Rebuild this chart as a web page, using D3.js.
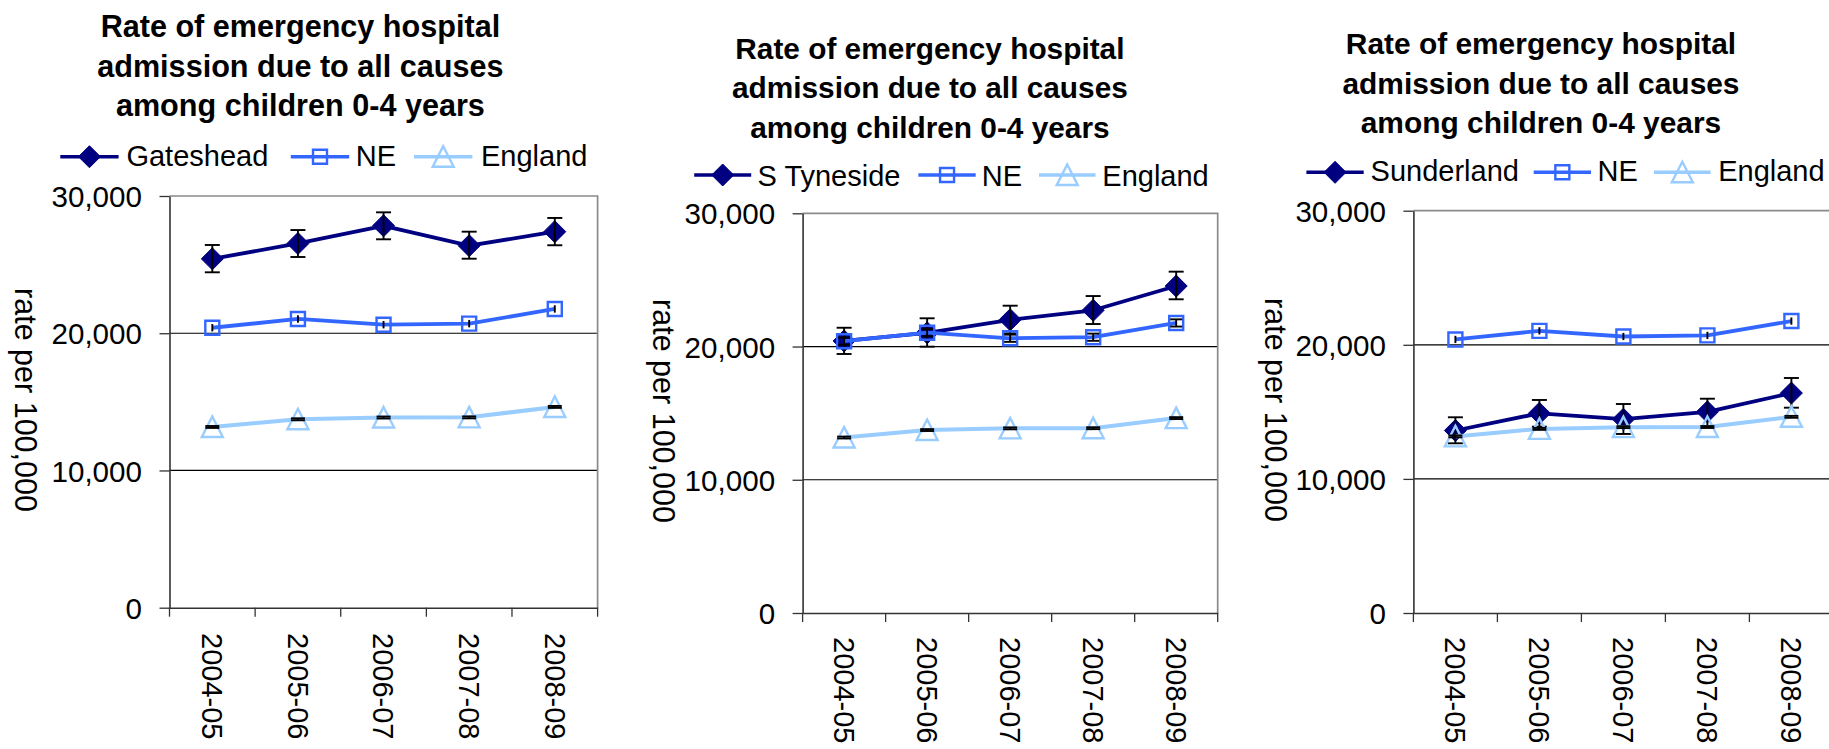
<!DOCTYPE html>
<html>
<head>
<meta charset="utf-8">
<script src="https://cdn.jsdelivr.net/npm/d3@7"></script>
<style>
html,body{margin:0;padding:0;background:#fff;overflow:hidden}
text{font-family:"Liberation Sans",Arial,sans-serif;fill:#000}
</style>
</head>
<body>
<svg id="c" width="1829" height="749"></svg>
<script>
// ---------- data ----------
const categories = ["2004-05","2005-06","2006-07","2007-08","2008-09"];
const yTicks = [0, 10000, 20000, 30000];
const titleLines = ["Rate of emergency hospital","admission due to all causes","among children 0-4 years"];
const yAxisTitle = "rate per 100,000";

const neName = "NE";
const neRate = [20400, 21040, 20620, 20700, 21770];
const neLow  = [20130, 20770, 20350, 20430, 21500];
const neHigh = [20670, 21310, 20890, 20970, 22040];

const englandName = "England";
const englandRate = [13170, 13730, 13860, 13870, 14630];
const englandLow  = [13100, 13660, 13790, 13800, 14560];
const englandHigh = [13240, 13800, 13930, 13940, 14700];

const gatesheadRate = [25420, 26540, 27830, 26380, 27400];
const gatesheadLow  = [24440, 25555, 26845, 25430, 26410];
const gatesheadHigh = [26430, 27520, 28810, 27400, 28400];

const tynesideRate = [20420, 21030, 22010, 22720, 24540];
const tynesideLow  = [19440, 19990, 20990, 21690, 23545];
const tynesideHigh = [21410, 22120, 23065, 23790, 25620];

const sunderlandRate = [13610, 14890, 14450, 15000, 16400];
const sunderlandLow  = [12655, 13895, 13350, 13945, 15310];
const sunderlandHigh = [14595, 15885, 15585, 15980, 17525];

// ---------- layout / style ----------
const FONT_TICK = 29.6, FONT_LEG = 29, FONT_XLAB = 29, FONT_YTITLE = 30.5;
const C_LOCAL = "#000080", C_NE = "#3366FF", C_ENG = "#99CCFF";

const charts = [
  {name:"Gateshead", rate:gatesheadRate, low:gatesheadLow, high:gatesheadHigh, neCaps:false,
   L:{left:169.5,right:597.6,top:196,bottom:607.7,titleX:300.4,titleY:[37,76.5,116],titleSize:30.6,
      legY:166,legLineY:156.7,leg:[[60.3,118.6,126.4],[290.8,349.2,355.8],[414,472.4,481]],
      yTitle:[25.5,400],xLabY:633}},
  {name:"S Tyneside", rate:tynesideRate, low:tynesideLow, high:tynesideHigh, neCaps:true,
   L:{left:802.6,right:1217.7,top:213.3,bottom:613,titleX:929.9,titleY:[59,98,137.5],titleSize:29.8,
      legY:185.5,legLineY:175,leg:[[694.2,751.2,757.5],[918.4,975.7,981.7],[1039,1095.5,1102.3]],
      yTitle:[663.5,411],xLabY:637}},
  {name:"Sunderland", rate:sunderlandRate, low:sunderlandLow, high:sunderlandHigh, neCaps:false,
   L:{left:1413.4,right:1833.4,top:210.7,bottom:613,titleX:1541,titleY:[54,93.5,132.5],titleSize:29.9,
      legY:181,legLineY:172.3,leg:[[1306.4,1363.7,1370.6],[1533.7,1591,1597.5],[1654,1710.6,1718.2]],
      yTitle:[1276,410],xLabY:637}}
];

const svg = d3.select("#c");

const markerPath = {
  diamond: "M0,-11L11,0L0,11L-11,0Z",
  square: "M-7,-7H7V7H-7Z",
  triangle: "M0,-10.5L10.5,10L-10.5,10Z"
};

function drawMarker(g, x, y, type, color) {
  const p = g.append("path").attr("d", markerPath[type]).attr("transform", `translate(${x},${y})`);
  if (type === "diamond") p.attr("fill", color).attr("stroke", color).attr("stroke-width", 1);
  else p.attr("fill", "none").attr("stroke", color).attr("stroke-width", 2.4);
}

function hText(g, x, y, str, size, weight, anchor) {
  g.append("text")
    .attr("x", x).attr("y", y)
    .attr("text-anchor", anchor)
    .style("font-size", size + "px")
    .style("font-weight", weight)
    .text(str);
}

charts.forEach(ch => {
  const L = ch.L;
  const g = svg.append("g");
  const x = d3.scaleBand().domain(categories).range([L.left, L.right]);
  const y = d3.scaleLinear().domain([0, 30000]).range([L.bottom, L.top]);
  const cx = c => x(c) + x.bandwidth() / 2;

  // title
  titleLines.forEach((t, i) => hText(g, L.titleX, L.titleY[i], t, L.titleSize, "bold", "middle"));

  // legend
  const legItems = [
    {label: ch.name, color: C_LOCAL, type: "diamond"},
    {label: neName, color: C_NE, type: "square"},
    {label: englandName, color: C_ENG, type: "triangle"}
  ];
  legItems.forEach((it, i) => {
    const [x0, x1, tx] = L.leg[i];
    g.append("line").attr("x1", x0).attr("x2", x1).attr("y1", L.legLineY).attr("y2", L.legLineY)
      .attr("stroke", it.color).attr("stroke-width", 3.6);
    drawMarker(g, (x0 + x1) / 2, L.legLineY, it.type, it.color);
    hText(g, tx, L.legY, it.label, FONT_LEG, "normal", "start");
  });

  // gridlines
  g.append("g").selectAll("line").data(yTicks.filter(v => v > 0 && v < 30000)).join("line")
    .attr("x1", L.left).attr("x2", L.right).attr("y1", d => y(d)).attr("y2", d => y(d))
    .attr("stroke", "#000").attr("stroke-width", 1.2);

  // plot border top / right
  g.append("path")
    .attr("d", `M${L.left},${y(30000)}H${L.right}V${y(0)}`)
    .attr("fill", "none").attr("stroke", "#8a8a8a").attr("stroke-width", 1.7);

  // y axis
  const ya = g.append("g").attr("transform", `translate(${L.left},0)`)
    .call(d3.axisLeft(y).tickValues(yTicks).tickSize(10).tickSizeOuter(0).tickFormat(d3.format(",")));
  ya.select(".domain").attr("stroke", "#333").attr("stroke-width", 1.6);
  ya.selectAll(".tick line").attr("stroke", "#333").attr("stroke-width", 1.3);
  ya.selectAll(".tick text")
    .attr("x", -27.5).attr("dy", "0.36em")
    .style("font-size", FONT_TICK + "px").style("font-family", '"Liberation Sans",Arial,sans-serif').attr("fill", "#000");

  // x axis
  const xa = g.append("g").attr("transform", `translate(0,${L.bottom})`)
    .call(d3.axisBottom(x).tickSize(0).tickSizeOuter(0));
  xa.select(".domain").attr("stroke", "#333").attr("stroke-width", 1.6);
  xa.selectAll(".tick text")
    .attr("y", null).attr("dy", "0.35em")
    .attr("transform", `translate(0,${L.xLabY - L.bottom}) rotate(90)`)
    .attr("text-anchor", "start")
    .style("font-size", FONT_XLAB + "px").style("font-family", '"Liberation Sans",Arial,sans-serif').attr("fill", "#000");
  const bounds = categories.map(c => x(c)).concat([x.range()[1]]);
  g.append("g").selectAll("line").data(bounds).join("line")
    .attr("x1", d => d).attr("x2", d => d).attr("y1", L.bottom).attr("y2", L.bottom + 9)
    .attr("stroke", "#333").attr("stroke-width", 1.3);

  // y axis title
  g.append("text")
    .attr("transform", `translate(${L.yTitle[0]},${L.yTitle[1]}) rotate(90)`)
    .attr("text-anchor", "middle").attr("dy", "0.35em")
    .style("font-size", FONT_YTITLE + "px")
    .text(yAxisTitle);

  // series
  const series = [
    {rate: ch.rate, low: ch.low, high: ch.high, color: C_LOCAL, type: "diamond", caps: true, capW: 15, lw: 3.8},
    {rate: neRate, low: neLow, high: neHigh, color: C_NE, type: "square", caps: ch.neCaps, capW: 12, lw: 3.8},
    {rate: englandRate, low: englandLow, high: englandHigh, color: C_ENG, type: "triangle", caps: true, capW: 14, lw: 4}
  ];
  const line = d3.line().x((d, i) => cx(categories[i])).y(d => y(d));
  series.forEach(s => {
    g.append("path").attr("d", line(s.rate)).attr("fill", "none")
      .attr("stroke", s.color).attr("stroke-width", s.lw).attr("stroke-linejoin", "round");
    s.rate.forEach((v, i) => drawMarker(g, cx(categories[i]), y(v), s.type, s.color));
    s.rate.forEach((v, i) => {
      const px = cx(categories[i]);
      g.append("line").attr("x1", px).attr("x2", px).attr("y1", y(s.low[i])).attr("y2", y(s.high[i]))
        .attr("stroke", "#000").attr("stroke-width", 1.9);
      if (s.caps) {
        [s.low[i], s.high[i]].forEach(b => {
          g.append("line").attr("x1", px - s.capW / 2).attr("x2", px + s.capW / 2)
            .attr("y1", y(b)).attr("y2", y(b)).attr("stroke", "#000").attr("stroke-width", 1.9);
        });
      }
    });
  });
});
</script>
</body>
</html>
